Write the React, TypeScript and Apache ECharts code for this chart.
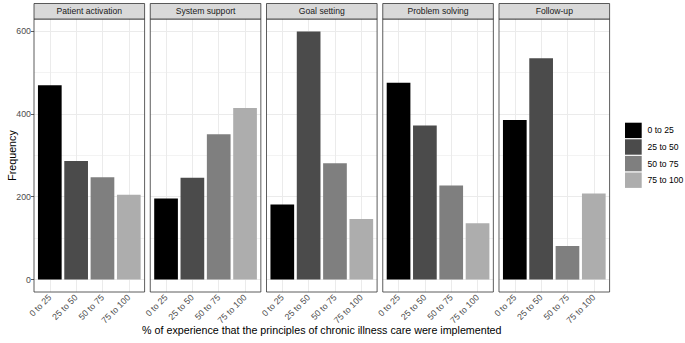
import React, { useEffect, useRef } from 'react';
import * as echarts from 'echarts';

const categories = ['0 to 25', '25 to 50', '50 to 75', '75 to 100'];
const panelNames = ['Patient activation', 'System support', 'Goal setting', 'Problem solving', 'Follow-up'];
const patientActivation = [469, 286, 247, 205];
const systemSupport = [196, 246, 351, 414];
const goalSetting = [181, 599, 281, 146];
const problemSolving = [475, 372, 227, 136];
const followUp = [385, 534, 81, 208];
const yTickValues = [0, 200, 400, 600];
const yGridValues = [0, 100, 200, 300, 400, 500, 600];
const fillColors = ['#000000', '#4b4b4b', '#7f7f7f', '#adadad'];
const xTitle = '% of experience that the principles of chronic illness care were implemented';
const yTitle = 'Frequency';

const panelValues = [patientActivation, systemSupport, goalSetting, problemSolving, followUp];

export default function App() {
  const ref = useRef<HTMLDivElement>(null);
  useEffect(() => {
    if (!ref.current) return;
    const chart = echarts.init(ref.current, undefined, { renderer: 'svg' });
    const font = 'Liberation Sans, Arial, sans-serif';
    const panelLeft0 = 34;
    const panelStride = 116.25;
    const panelW = 110.6;
    const panelTop = 19;
    const panelH = 273;
    const unit = panelW / 4.2;
    const inset = unit * 0.1;
    const yMin = -30;
    const yMax = 629;

    const grids: any[] = [];
    const xAxes: any[] = [];
    const yAxes: any[] = [];
    const series: any[] = [];
    const graphics: any[] = [];

    panelValues.forEach((vals, i) => {
      const L = panelLeft0 + panelStride * i;
      grids.push({ left: L, top: panelTop, width: panelW, height: panelH, containLabel: false });
      grids.push({ left: L + inset, top: panelTop, width: panelW - 2 * inset, height: panelH, containLabel: false });
      xAxes.push({ type: 'value', gridIndex: 2 * i, min: 0, max: 1, show: false });
      xAxes.push({
        type: 'category',
        gridIndex: 2 * i + 1,
        data: categories,
        axisLine: { show: false },
        axisTick: { show: true, alignWithLabel: true, length: 3, lineStyle: { color: '#333333', width: 0.8 } },
        axisLabel: { rotate: 45, interval: 0, fontSize: 8.8, color: '#4d4d4d', margin: 4, fontFamily: font },
        splitLine: { show: false },
      });
      yAxes.push({ type: 'value', gridIndex: 2 * i, min: yMin, max: yMax, show: false });
      yAxes.push({
        type: 'value',
        gridIndex: 2 * i + 1,
        min: yMin,
        max: yMax,
        axisLine: { show: false },
        splitLine: { show: false },
        axisTick: {
          show: i === 0,
          length: 3 + inset,
          customValues: yTickValues,
          lineStyle: { color: '#333333', width: 0.8 },
        },
        axisLabel: {
          show: i === 0,
          customValues: yTickValues,
          fontSize: 8.8,
          color: '#4d4d4d',
          margin: 3 + inset,
          fontFamily: font,
        },
      });
      series.push({
        type: 'line',
        xAxisIndex: 2 * i,
        yAxisIndex: 2 * i,
        data: [],
        silent: true,
        markLine: {
          silent: true,
          z: 1,
          symbol: ['none', 'none'],
          label: { show: false },
          animation: false,
          data: yGridValues.map((v) => ({
            yAxis: v,
            lineStyle: { color: '#ebebeb', type: 'solid', width: v % 200 === 0 ? 1 : 0.6 },
          })),
        },
      });
      series.push({
        type: 'bar',
        xAxisIndex: 2 * i + 1,
        yAxisIndex: 2 * i + 1,
        barWidth: '90%',
        z: 2,
        data: vals.map((v, j) => ({ value: v, itemStyle: { color: fillColors[j] } })),
        markLine: {
          silent: true,
          z: 1,
          symbol: ['none', 'none'],
          label: { show: false },
          animation: false,
          data: categories.map((c) => ({
            xAxis: c,
            lineStyle: { color: '#ebebeb', type: 'solid', width: 1 },
          })),
        },
      });
      graphics.push({
        type: 'rect',
        z: 10,
        shape: { x: L, y: panelTop, width: panelW, height: panelH },
        style: { fill: 'none', stroke: '#333333', lineWidth: 0.8 },
        silent: true,
      });
      graphics.push({
        type: 'rect',
        z: 10,
        shape: { x: L, y: 3.5, width: panelW, height: panelTop - 3.5 },
        style: { fill: '#d9d9d9', stroke: '#333333', lineWidth: 0.8 },
        silent: true,
      });
      graphics.push({
        type: 'text',
        z: 11,
        x: L + panelW / 2,
        y: (3.5 + panelTop) / 2,
        style: {
          text: panelNames[i],
          fill: '#1a1a1a',
          fontSize: 8.6,
          fontFamily: font,
          align: 'center',
          verticalAlign: 'middle',
        },
        silent: true,
      });
    });

    const keyX = 625;
    const keyY0 = 122.7;
    const keyPitch = 16.6;
    categories.forEach((c, j) => {
      graphics.push({
        type: 'rect',
        z: 10,
        shape: { x: keyX, y: keyY0 + keyPitch * j, width: 16.7, height: 15.4 },
        style: { fill: fillColors[j] },
        silent: true,
      });
      graphics.push({
        type: 'text',
        z: 10,
        x: keyX + 22.5,
        y: keyY0 + keyPitch * j + 7.7,
        style: {
          text: c,
          fill: '#000000',
          fontSize: 8.6,
          fontFamily: font,
          align: 'left',
          verticalAlign: 'middle',
        },
        silent: true,
      });
    });

    graphics.push({
      type: 'text',
      z: 10,
      x: panelLeft0 + (panelStride * 4 + panelW) / 2,
      y: 330,
      style: {
        text: xTitle,
        fill: '#000000',
        fontSize: 10.7,
        fontFamily: font,
        align: 'center',
        verticalAlign: 'middle',
      },
      silent: true,
    });
    graphics.push({
      type: 'text',
      z: 10,
      x: 12,
      y: panelTop + panelH / 2,
      rotation: Math.PI / 2,
      style: {
        text: yTitle,
        fill: '#000000',
        fontSize: 10.7,
        fontFamily: font,
        align: 'center',
        verticalAlign: 'middle',
      },
      silent: true,
    });

    chart.setOption({
      animation: false,
      backgroundColor: '#ffffff',
      textStyle: { fontFamily: font },
      grid: grids,
      xAxis: xAxes,
      yAxis: yAxes,
      series,
      graphic: { elements: graphics },
    });
    return () => chart.dispose();
  }, []);
  return <div ref={ref} style={{ position: 'fixed', left: 0, top: 0, width: 685, height: 343 }} />;
}
